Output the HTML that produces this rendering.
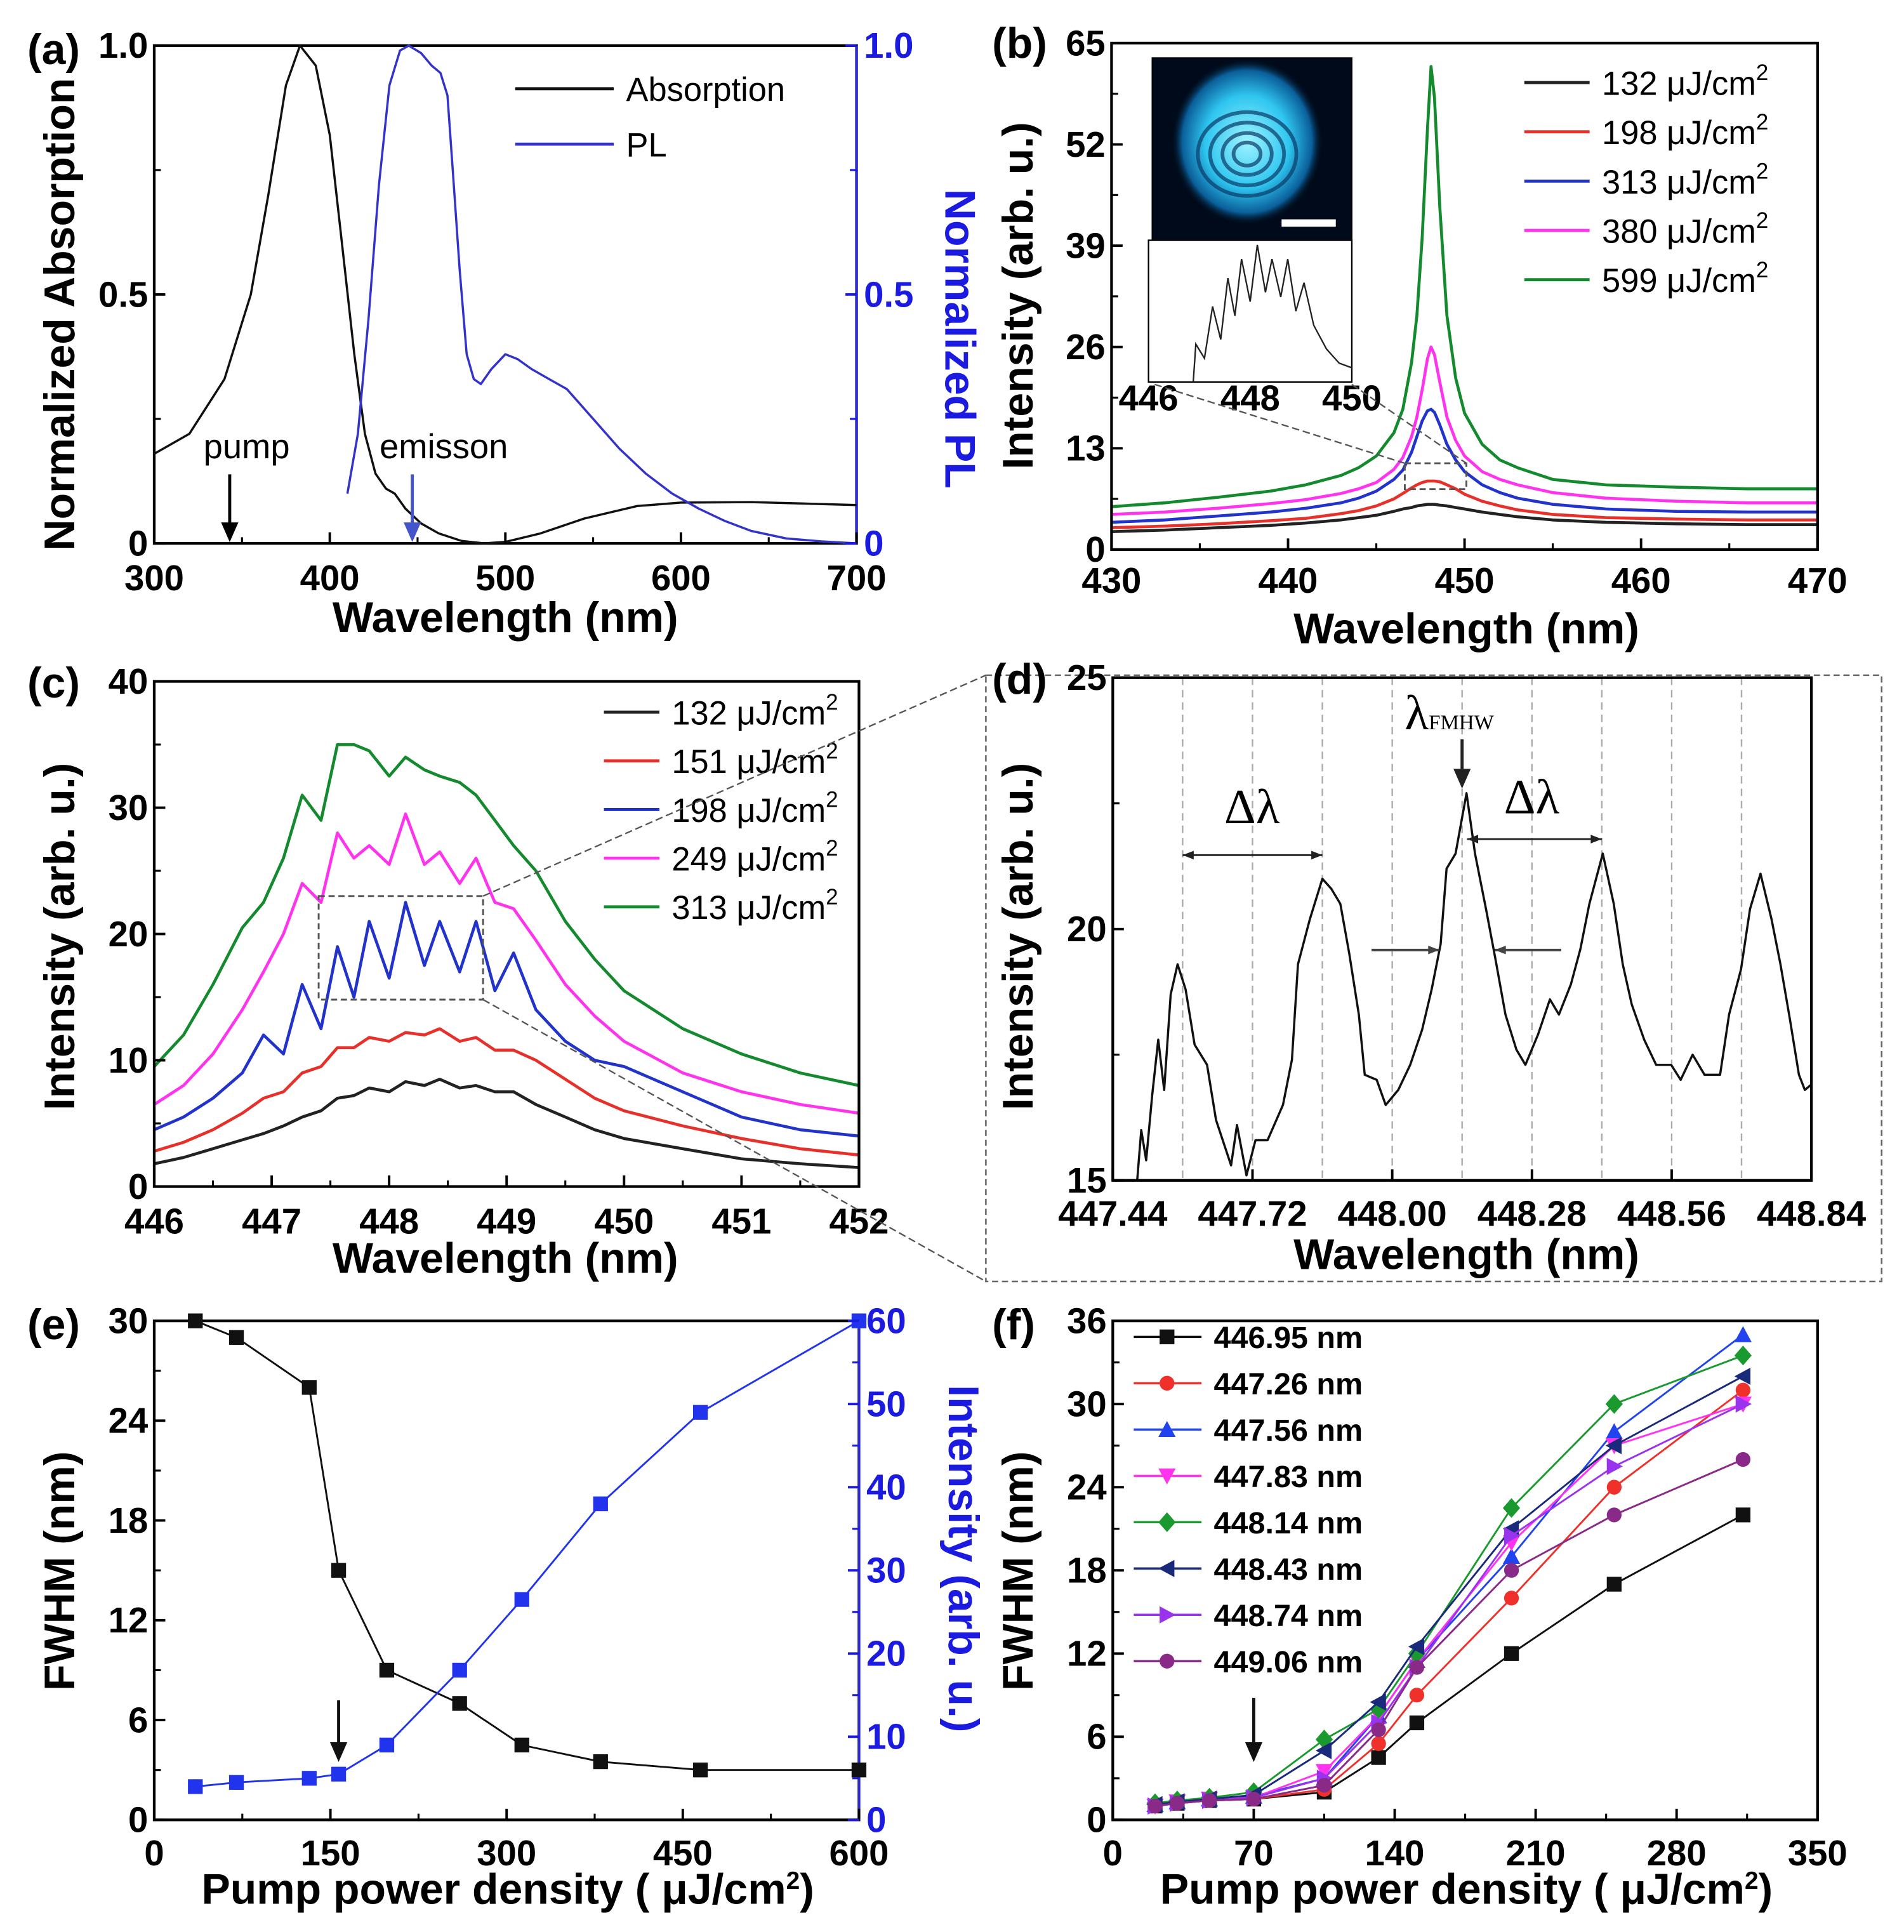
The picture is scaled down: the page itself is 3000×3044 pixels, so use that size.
<!DOCTYPE html>
<html><head><meta charset="utf-8">
<style>
html,body{margin:0;padding:0;background:#fff;}
svg{display:block;}
text{font-family:"Liberation Sans",Arial,sans-serif;}
.tk{font-weight:bold;font-size:29px;}
.ttl{font-weight:bold;font-size:35px;}
.lg{font-size:27px;}
.serif{font-family:"Liberation Serif",serif;}
</style></head>
<body>
<svg id="fig" width="3000" height="3044" viewBox="0 0 1545 1568" xmlns="http://www.w3.org/2000/svg">
<defs>
<radialGradient id="blob" cx="50%" cy="50%" r="50%">
<stop offset="0%" stop-color="#9ff4ff"/><stop offset="55%" stop-color="#2fc6f0"/><stop offset="85%" stop-color="#0a5f9a"/><stop offset="100%" stop-color="#000814" stop-opacity="0"/>
</radialGradient>
</defs>
</svg>
<script>
// ---------- data ----------
// (a)
const absX=[300,320,340,355,365,375,383,392,400,407,414,420,426,432,437,443,452,462,475,488,500,520,545,575,600,640,670,700];
const absY=[0.18,0.22,0.33,0.5,0.7,0.92,1.0,0.96,0.82,0.6,0.38,0.22,0.14,0.11,0.1,0.07,0.04,0.02,0.005,0,0.003,0.02,0.05,0.075,0.082,0.083,0.08,0.077];
const plX=[410,416,422,428,434,440,445,452,458,463,467,470,474,478,482,486,492,500,507,515,525,535,550,565,580,595,610,625,640,660,680,700];
const plY=[0.1,0.22,0.45,0.72,0.92,0.99,1.0,0.985,0.96,0.945,0.9,0.75,0.55,0.38,0.33,0.32,0.35,0.38,0.37,0.35,0.33,0.31,0.25,0.19,0.14,0.1,0.07,0.045,0.025,0.01,0.004,0];
const aXTicks=[300,400,500,600,700];
const aYTicks=[0,0.5,1.0];
const aYTickLabels=['0','0.5','1.0'];
// (b)
const bX=[430,433,436,439,441,443,444,445,446,446.5,447,447.3,447.6,447.9,448.1,448.3,448.6,449,449.5,450,451,452,453,455,458,462,466,470];
const b599=[5.5,6,6.7,7.5,8.3,9.5,10.5,12,15,18,24,30,40,54,62,58,44,30,22,17.5,13.5,11.5,10.5,9,8.3,8,7.8,7.8];
const b380=[4.5,4.8,5.3,5.9,6.4,7.2,7.8,8.6,10.3,11.8,14.5,17,20.5,24.5,26,25,21.5,17,14,12,10,9,8.3,7.3,6.6,6.2,6,6];
const b313=[3.5,3.8,4.3,4.8,5.3,6,6.6,7.5,9,10.2,12.5,14.5,16.5,17.8,18,17.6,16,13.5,11.5,10,8.3,7.3,6.6,5.8,5.2,4.9,4.8,4.8];
const b198=[2.8,3.0,3.3,3.7,4.0,4.6,5,5.6,6.5,7.2,7.9,8.3,8.6,8.8,8.8,8.8,8.7,8.3,7.8,7.1,6.2,5.6,5.1,4.5,4.1,3.9,3.8,3.8];
const b132=[2.3,2.5,2.8,3.1,3.4,3.8,4.1,4.4,4.9,5.2,5.4,5.6,5.7,5.8,5.8,5.8,5.7,5.6,5.4,5.2,4.8,4.5,4.2,3.8,3.5,3.3,3.2,3.2];
const bXTicks=[430,440,450,460,470];
const bYTicks=[0,13,26,39,52,65];
const bLegend=['132 μJ/cm','198 μJ/cm','313 μJ/cm','380 μJ/cm','599 μJ/cm'];
// (c)
const cX=[446,446.25,446.5,446.75,446.93,447.1,447.26,447.42,447.56,447.7,447.83,448,448.14,448.3,448.43,448.6,448.74,448.9,449.06,449.25,449.5,449.75,450,450.5,451,451.5,452];
const c313=[9.5,12,16,20.5,22.5,26,31,29,35,35,34.5,32.5,34,33,32.5,32,31,29,27,25,21,18,15.5,12.5,10.5,9,8];
const c249=[6.5,8,10.5,14,17,20,24,22.5,28,26,27,25.5,29.5,25.5,26.5,24,26,22.5,22,19.5,16,13.5,11.5,9,7.5,6.5,5.8];
const c198=[4.5,5.5,7,9,12,10.5,16,12.5,19,15,21,16.5,22.5,17.5,21,17,21,15.5,18.5,14,11.5,10,9.5,7.5,5.5,4.5,4];
const c151=[2.8,3.5,4.5,5.8,7,7.5,9,9.5,11,11,11.8,11.5,12.2,12,12.5,11.5,11.8,10.8,10.8,10,8.5,7,6,4.8,3.8,3,2.5];
const c132=[1.8,2.3,3,3.7,4.2,4.8,5.5,6,7,7.2,7.8,7.5,8.3,8,8.5,7.8,8,7.5,7.5,6.5,5.5,4.5,3.8,3,2.2,1.8,1.5];
const cXTicks=[446,447,448,449,450,451,452];
const cYTicks=[0,10,20,30,40];
const cLegend=['132 μJ/cm','151 μJ/cm','198 μJ/cm','249 μJ/cm','313 μJ/cm'];
// (d)
const dX=[447.489,447.497,447.507,447.519,447.531,447.543,447.556,447.570,447.586,447.604,447.629,447.647,447.677,447.689,447.708,447.726,447.750,447.781,447.799,447.811,447.835,447.860,447.878,447.896,447.914,447.933,447.945,447.969,447.987,448.012,448.036,448.060,448.079,448.097,448.109,448.127,448.149,448.166,448.188,448.207,448.227,448.249,448.267,448.292,448.316,448.334,448.358,448.377,448.395,448.422,448.444,448.462,448.480,448.505,448.529,448.559,448.578,448.602,448.626,448.657,448.675,448.699,448.717,448.738,448.760,448.778,448.797,448.815,448.827,448.839];
const dY=[15,16,15.4,16.7,17.8,16.8,18.7,19.3,18.8,17.7,17.3,16.2,15.3,16.1,15.1,15.8,15.8,16.5,17.4,19.3,20.2,21,20.8,20.5,19.5,18.3,17.1,17,16.5,16.8,17.3,18,18.8,19.7,21.2,21.5,22.7,21.5,20.4,19.4,18.3,17.6,17.3,17.9,18.6,18.3,18.9,19.6,20.5,21.5,20.5,19.3,18.5,17.8,17.3,17.3,17,17.5,17.1,17.1,18.3,19.2,20.4,21.1,20.2,19.3,18.2,17.1,16.8,16.9];
const dXTicks=[447.44,447.72,448.00,448.28,448.56,448.84];
const dGrid=[447.58,447.72,447.86,448.00,448.14,448.28,448.42,448.56,448.70];
const dYTicks=[15,20,25];
// (e)
const eX=[35,70,132,157,198,260,313,380,465,600];
const eFwhm=[30,29,26,15,9,7,4.5,3.5,3,3];
const eInt=[4,4.5,5,5.5,9,18,26.5,38,49,60];
const eXTicks=[0,150,300,450,600];
const eYTicks=[0,6,12,18,24,30];
const eY2Ticks=[0,10,20,30,40,50,60];
// (f)
const fX=[21,32,48,70,105,132,151,198,249,313];
const f44695=[1,1.2,1.4,1.5,2,4.5,7,12,17,22];
const f44726=[1,1.2,1.4,1.5,2.2,5.5,9,16,24,31];
const f44756=[1.1,1.3,1.5,1.7,3,7.5,11.5,19,28,35];
const f44783=[1,1.3,1.5,1.6,3.5,7.5,11.5,20,27,30];
const f44814=[1.2,1.4,1.6,2,5.8,8,12,22.5,30,33.5];
const f44843=[1.1,1.3,1.5,1.8,5,8.5,12.5,21,27,32];
const f44874=[1,1.2,1.4,1.6,3,7,11,20.5,25.5,30];
const f44906=[1,1.2,1.4,1.5,2.5,6.5,11,18,22,26];
const fLegend=['446.95 nm','447.26 nm','447.56 nm','447.83 nm','448.14 nm','448.43 nm','448.74 nm','449.06 nm'];
const fXTicks=[0,70,140,210,280,350];
const fYTicks=[0,6,12,18,24,30,36];

// ---------- helpers ----------
const NS='http://www.w3.org/2000/svg';
const svg=document.getElementById('fig');
function mk(tag,attrs,parent){const e=document.createElementNS(NS,tag);for(const k in attrs)e.setAttribute(k,attrs[k]);(parent||svg).appendChild(e);return e;}
function lin(d0,d1,r0,r1){return v=>r0+(v-d0)*(r1-r0)/(d1-d0);}
function txt(x,y,s,cls,name,extra){const t=mk('text',Object.assign({x:x,y:y,class:cls||''},extra||{}));t.textContent=s;


return t;}
function pathD(xs,ys,sx,sy){return xs.map((v,i)=>(i?'L':'M')+sx(v).toFixed(1)+' '+sy(ys[i]).toFixed(1)).join(' ');}
function series(xs,ys,sx,sy,color,w,name){const p=mk('path',{d:pathD(xs,ys,sx,sy),fill:'none',stroke:color,'stroke-width':w,'stroke-linejoin':'round'});


return p;}
function frame(x0,y0,x1,y1,name,rightColor){const r=mk('rect',{x:x0,y:y0,width:x1-x0,height:y1-y0,fill:'none',stroke:'#000','stroke-width':2.2});


if(rightColor){const l=mk('line',{x1:x1,y1:y0,x2:x1,y2:y1,stroke:rightColor,'stroke-width':2.2});

}}
function xticks(ticks,labels,sx,yb,ly,name,minor){ticks.forEach((v,i)=>{const l=mk('line',{x1:sx(v),x2:sx(v),y1:yb,y2:yb-9,stroke:'#000','stroke-width':2});


txt(sx(v),ly,labels?labels[i]:String(v),'tk',name+'-label',{'text-anchor':'middle'});
if(minor&&i<ticks.length-1){const m=(v+ticks[i+1])/2;const ml=mk('line',{x1:sx(m),x2:sx(m),y1:yb,y2:yb-5,stroke:'#000','stroke-width':1.6});

}});}
function yticks(ticks,labels,sy,xl,name,color,right,minor){ticks.forEach((v,i)=>{const dx=right?-9:9;const l=mk('line',{x1:xl,x2:xl+dx,y1:sy(v),y2:sy(v),stroke:color,'stroke-width':2});


txt(right?xl+6:xl-5,sy(v)+10,labels?labels[i]:String(v),'tk',name+'-label',{'text-anchor':right?'start':'end',fill:color});
if(minor&&i<ticks.length-1){const m=(v+ticks[i+1])/2;const ml=mk('line',{x1:xl,x2:xl+dx*0.6,y1:sy(m),y2:sy(m),stroke:color,'stroke-width':1.6});

}});}
function ytitle(x,y,s,name,color,rot){txt(0,0,s,'ttl',name,{'text-anchor':'middle',fill:color||'#000',transform:'translate('+x+','+y+') rotate('+(rot||-90)+')'});}
function arrowDown(x,y0,y1,color,name){const g=mk('g',{});


mk('line',{x1:x,x2:x,y1:y0,y2:y1-12,stroke:color,'stroke-width':2.5},g);
mk('polygon',{points:(x-7)+','+(y1-16)+' '+(x+7)+','+(y1-16)+' '+x+','+y1,fill:color},g);}
function hArrow(x0,x1,y,color,name,both,w){const g=mk('g',{});


mk('line',{x1:x0,x2:x1,y1:y,y2:y,stroke:color,'stroke-width':w||1.5},g);
const d=x1>x0?1:-1;
mk('polygon',{points:x1+','+y+' '+(x1-d*9)+','+(y-3.5)+' '+(x1-d*9)+','+(y+3.5),fill:color},g);
if(both)mk('polygon',{points:x0+','+y+' '+(x0+d*9)+','+(y-3.5)+' '+(x0+d*9)+','+(y+3.5),fill:color},g);}
function legendLine(x0,x1,y,color,label,name,sup){const l=mk('line',{x1:x0,x2:x1,y1:y,y2:y,stroke:color,'stroke-width':2.5});


const t=txt(x1+10,y+10,label,'lg',name);
if(sup){const ts=document.createElementNS(NS,'tspan');ts.setAttribute('dy','-12');ts.setAttribute('font-size','18');ts.textContent='2';t.appendChild(ts);}
return t;}
function marker(shape,x,y,color,name){let e;const s=6;
if(shape==='sq')e=mk('rect',{x:x-s,y:y-s,width:2*s,height:2*s,fill:color});
else if(shape==='c')e=mk('circle',{cx:x,cy:y,r:s,fill:color});
else{let p;if(shape==='u')p=[[0,-s-1],[-s-1,s],[s+1,s]];else if(shape==='d')p=[[0,s+1],[-s-1,-s],[s+1,-s]];else if(shape==='l')p=[[-s-1,0],[s,-s-1],[s,s+1]];else if(shape==='r')p=[[s+1,0],[-s,-s-1],[-s,s+1]];else p=[[0,-s-2],[s+1,0],[0,s+2],[-s-1,0]];
e=mk('polygon',{points:p.map(q=>(x+q[0])+','+(y+q[1])).join(' '),fill:color});}

}

// ---------- panel (a) ----------
{const sx=lin(300,700,125,695),sy=lin(0,1,441,37);
frame(125,37,695,441,'panel-a-frame','#2b2bd0');
series(absX,absY,sx,sy,'#111',1.8,'absorption-line');
series(plX,plY,sx,sy,'#3333cc',1.8,'pl-line');
xticks(aXTicks,null,sx,441,479,'a-x-axis',true);
yticks(aYTicks,aYTickLabels,sy,125,'a-y-axis','#000',false,true);
yticks(aYTicks,aYTickLabels,sy,695,'a-y2-axis','#1a1ae0',true,true);
txt(22,52,'(a)','ttl','panel-a-label',{'font-size':'30'});
txt(410,513,'Wavelength (nm)','ttl','a-x-title',{'text-anchor':'middle'});
ytitle(60,255,'Normalized Absorption','a-y-title');
ytitle(767,275,'Normalized PL','a-y2-title','#1a1ae0',90);
legendLine(418,498,72,'#111','Absorption','legend-absorption').setAttribute('font-size','30');
legendLine(418,498,117,'#3333cc','PL','legend-pl').setAttribute('font-size','30');
txt(200,372,'pump','',"pump-label",{'font-size':'28','text-anchor':'middle'});
arrowDown(sx(343),385,440,'#000','pump-arrow');
txt(360,372,'emisson','',"emission-label",{'font-size':'28','text-anchor':'middle'});
arrowDown(sx(447),385,440,'#4455cc','emission-arrow');}

// ---------- panel (b) ----------
{const sx=lin(430,470,902,1475),sy=lin(0,65,446,35);
const cols=['#222','#e8302a','#2233cc','#ff33ee','#138a2e'];
[b132,b198,b313,b380,b599].forEach((s,i)=>series(bX,s,sx,sy,cols[i],2.4,'b-series-'+bLegend[i].split(' ')[0]));
frame(902,35,1475,446,'panel-b-frame');
xticks(bXTicks,null,sx,446,481,'b-x-axis',true);
yticks(bYTicks,null,sy,902,'b-y-axis','#000',false,true);
txt(805,47,'(b)','ttl','panel-b-label',{'font-size':'30'});
txt(1190,522,'Wavelength (nm)','ttl','b-x-title',{'text-anchor':'middle'});
ytitle(838,240,'Intensity (arb. u.)','b-y-title');
bLegend.forEach((l,i)=>legendLine(1237,1290,67+i*40,cols[i],l,'b-legend-'+l.split(' ')[0],true));
const img=mk('g',{});


mk('rect',{x:935,y:47,width:162,height:148,fill:'#000a1a',stroke:'#000'},img);
mk('ellipse',{cx:1012,cy:115,rx:62,ry:68,fill:'url(#blob)'},img);
[40,30,20,11].forEach(r=>mk('ellipse',{cx:1012,cy:125,rx:r,ry:r*0.85,fill:'none',stroke:'#0a3a66','stroke-width':3,opacity:0.7},img));
mk('rect',{x:1040,y:178,width:44,height:6,fill:'#fff'},img);
const ix=lin(446,450,932,1097),iy=lin(8,23,310,195);
const ib=mk('rect',{x:932,y:195,width:165,height:115,fill:'#fff',stroke:'#000','stroke-width':1.2});


const iX=cX.filter(v=>v>446.9&&v<=450),iY=c198.filter((v,i)=>cX[i]>446.9&&cX[i]<=450);
const ip=mk('path',{d:'M'+ix(446.88)+' 310 '+pathD(iX,iY,ix,iy).replace('M','L'),fill:'none',stroke:'#222','stroke-width':1.2});


[446,448,450].forEach(v=>txt(ix(v),333,String(v),'tk','inset-x-label',{'text-anchor':'middle','font-size':'24'}));
const zr=mk('rect',{x:1140,y:376,width:50,height:21,fill:'none',stroke:'#555','stroke-width':1.5,'stroke-dasharray':'5,3'});


const l1=mk('line',{x1:937,y1:312,x2:1140,y2:376,stroke:'#555','stroke-width':1.2,'stroke-dasharray':'6,3'});


const l2=mk('line',{x1:1097,y1:312,x2:1190,y2:376,stroke:'#555','stroke-width':1.2,'stroke-dasharray':'6,3'});

}

// ---------- panel (c) ----------
{const sx=lin(446,452,125,697),sy=lin(0,40,963,553);
const cols=['#222','#e8302a','#2233cc','#ff33ee','#138a2e'];
[c132,c151,c198,c249,c313].forEach((s,i)=>series(cX,s,sx,sy,cols[i],2.4,'c-series-'+cLegend[i].split(' ')[0]));
frame(125,553,697,963,'panel-c-frame');
xticks(cXTicks,null,sx,963,1001,'c-x-axis',true);
yticks(cYTicks,null,sy,125,'c-y-axis','#000',false,true);
txt(22,566,'(c)','ttl','panel-c-label',{'font-size':'30'});
txt(410,1033,'Wavelength (nm)','ttl','c-x-title',{'text-anchor':'middle'});
ytitle(60,760,'Intensity (arb. u.)','c-y-title');
cLegend.forEach((l,i)=>legendLine(490,535,578+i*39.5,cols[i],l,'c-legend-'+l.split(' ')[0],true));
const zr=mk('rect',{x:sx(447.4),y:sy(23),width:sx(448.8)-sx(447.4),height:sy(14.8)-sy(23),fill:'none',stroke:'#555','stroke-width':1.5,'stroke-dasharray':'5,3'});


const l1=mk('line',{x1:sx(448.8),y1:sy(23),x2:800,y2:548,stroke:'#555','stroke-width':1.2,'stroke-dasharray':'6,3'});


const l2=mk('line',{x1:sx(448.8),y1:sy(14.8),x2:800,y2:1040,stroke:'#555','stroke-width':1.2,'stroke-dasharray':'6,3'});

}

// ---------- panel (d) ----------
{const sx=lin(447.44,448.84,903,1470),sy=lin(15,25,958,550);
const ob=mk('rect',{x:800,y:548,width:727,height:492,fill:'none',stroke:'#666','stroke-width':1.3,'stroke-dasharray':'5,3'});


dGrid.forEach(v=>{const g=mk('line',{x1:sx(v),x2:sx(v),y1:550,y2:958,stroke:'#aaa','stroke-width':1.2,'stroke-dasharray':'6,4'});

});
series(dX,dY,sx,sy,'#111',1.8,'d-spectrum-line');
frame(903,550,1470,958,'panel-d-frame');
xticks(dXTicks,dXTicks.map(v=>v.toFixed(2)),sx,958,995,'d-x-axis',false);
yticks(dYTicks,null,sy,903,'d-y-axis','#000',false,true);
txt(805,563,'(d)','ttl','panel-d-label',{'font-size':'30'});
txt(1190,1030,'Wavelength (nm)','ttl','d-x-title',{'text-anchor':'middle'});
ytitle(838,760,'Intensity (arb. u.)','d-y-title');
const lf=txt(1140,592,'λ','serif','lambda-fwhm-label',{'font-size':'40'});
const sb=document.createElementNS(NS,'tspan');sb.setAttribute('font-size','17');sb.textContent='FMHW';lf.appendChild(sb);
arrowDown(sx(448.14),600,640,'#222','fwhm-arrow');
txt(1016,668,'Δλ','serif','delta-lambda-left',{'font-size':'40','text-anchor':'middle'});
txt(1243,660,'Δλ','serif','delta-lambda-right',{'font-size':'40','text-anchor':'middle'});
hArrow(sx(447.58),sx(447.86),694,'#222','fsr-arrow-left',true);
hArrow(sx(448.15),sx(448.42),681,'#222','fsr-arrow-right',true);
hArrow(1113,1168,771,'#444','fwhm-arrow-in-left',false,2);
hArrow(1267,1213,771,'#444','fwhm-arrow-in-right',false,2);}

// ---------- panel (e) ----------
{const sx=lin(0,600,125,697),sy=lin(0,30,1477,1072),sy2=lin(0,60,1477,1072);
frame(125,1072,697,1477,'panel-e-frame','#2b2bd0');
series(eX,eFwhm,sx,sy,'#111',1.5,'e-fwhm-line');
series(eX,eInt,sx,sy2,'#2233ee',1.5,'e-intensity-line');
eX.forEach((v,i)=>{marker('sq',sx(v),sy(eFwhm[i]),'#111','e-fwhm-point');marker('sq',sx(v),sy2(eInt[i]),'#2233ee','e-intensity-point');});
xticks(eXTicks,null,sx,1477,1514,'e-x-axis',true);
yticks(eYTicks,null,sy,125,'e-y-axis','#000',false,true);
yticks(eY2Ticks,null,sy2,697,'e-y2-axis','#1a1ae0',true,true);
txt(22,1087,'(e)','ttl','panel-e-label',{'font-size':'30'});
const xt=txt(412,1545,'Pump power density ( μJ/cm','ttl','e-x-title',{'text-anchor':'middle','font-size':'31'});
const s2=document.createElementNS(NS,'tspan');s2.setAttribute('dy','-12');s2.setAttribute('font-size','20');s2.textContent='2';xt.appendChild(s2);
const s3=document.createElementNS(NS,'tspan');s3.setAttribute('dy','12');s3.textContent=')';xt.appendChild(s3);
ytitle(60,1275,'FWHM (nm)','e-y-title');
ytitle(770,1265,'Intensity (arb. u.)','e-y2-title','#1a1ae0',90);
arrowDown(sx(157),1380,1430,'#111','e-threshold-arrow');}

// ---------- panel (f) ----------
{const sx=lin(0,350,903,1475),sy=lin(0,36,1477,1072);
const sets=[f44695,f44726,f44756,f44783,f44814,f44843,f44874,f44906];
const cols=['#111','#f0302a','#2244ee','#ff33ee','#1a9a2e','#1a2a7a','#9933ee','#8a2a88'];
const shp=['sq','c','u','d','dm','l','r','c'];
frame(903,1072,1475,1477,'panel-f-frame');
sets.forEach((s,i)=>{series(fX,s,sx,sy,cols[i],1.5,'f-series-'+fLegend[i].split(' ')[0]);
fX.forEach((v,j)=>marker(shp[i],sx(v),sy(s[j]),cols[i],'f-point-'+fLegend[i].split(' ')[0]));});
xticks(fXTicks,null,sx,1477,1514,'f-x-axis',true);
yticks(fYTicks,null,sy,903,'f-y-axis','#000',false,true);
txt(805,1087,'(f)','ttl','panel-f-label',{'font-size':'30'});
const xt=txt(1190,1545,'Pump power density ( μJ/cm','ttl','f-x-title',{'text-anchor':'middle','font-size':'31'});
const s2=document.createElementNS(NS,'tspan');s2.setAttribute('dy','-12');s2.setAttribute('font-size','20');s2.textContent='2';xt.appendChild(s2);
const s3=document.createElementNS(NS,'tspan');s3.setAttribute('dy','12');s3.textContent=')';xt.appendChild(s3);
ytitle(838,1275,'FWHM (nm)','f-y-title');
fLegend.forEach((l,i)=>{const y=1085+i*37.6;const ll=mk('line',{x1:920,x2:975,y1:y,y2:y,stroke:cols[i],'stroke-width':1.8});


marker(shp[i],947,y,cols[i],'f-legend-marker');
txt(985,y+9,l,'','f-legend-'+l.split(' ')[0],{'font-size':'25','font-weight':'bold'});});
arrowDown(sx(70),1378,1430,'#111','f-threshold-arrow');}
</script>
</body></html>
